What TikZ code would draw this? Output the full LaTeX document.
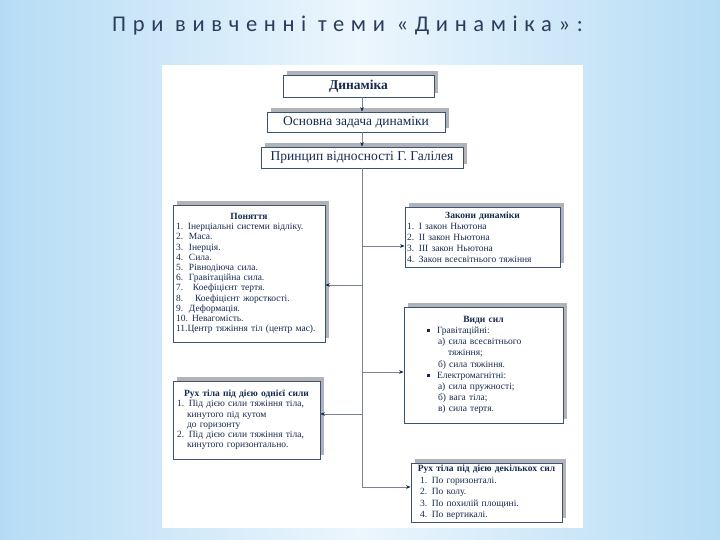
\documentclass[tikz,border=0pt]{standalone}
\usepackage{fontspec}
\setmainfont{Liberation Serif}
\newfontfamily\titlefont[LetterSpace=29.5]{Carlito}
\usetikzlibrary{arrows.meta,positioning,shadows,calc}
\definecolor{bgedge}{RGB}{182,220,245}
\definecolor{bgmid}{RGB}{236,246,253}
\definecolor{boxline}{RGB}{58,82,116}
\definecolor{shadowgrey}{RGB}{176,179,184}
\definecolor{ink}{RGB}{22,42,78}
\definecolor{spinegrey}{RGB}{120,130,146}
\definecolor{titleink}{RGB}{46,60,92}
\newcommand\numitem[3][13pt]{\makebox[#1][l]{#2}#3}
\newcommand\bul{\raisebox{1.6pt}{\rule{3pt}{3pt}}}
\tikzset{
  plainbox/.style={draw=boxline, line width=0.8pt, fill=white, text=ink,
    inner sep=0pt, drop shadow={shadow xshift=4pt, shadow yshift=4pt,
    opacity=1, fill=shadowgrey}},
  headbox/.style={plainbox, font=\fontsize{13.5}{15}\selectfont},
  listbox/.style={plainbox, align=left, inner xsep=3pt,
    font=\fontsize{9.5}{10.4}\selectfont},
  feed/.style={draw=spinegrey, line width=0.6pt},
  feedarrow/.style={feed, -{Stealth[length=4.5pt,width=3.6pt,color=ink]}}
}
\begin{document}
\begin{tikzpicture}[x=1pt,y=-1pt]
  \useasboundingbox (0,0) rectangle (720,540);
  % background and white sheet
  \shade[left color=bgedge, right color=bgedge, middle color=bgmid]
    (0,0) rectangle (720,540);
  \fill[white] (162,65) rectangle (583,528);
  % heading
  \node[anchor=base west, inner sep=0pt, text=titleink,
    font=\titlefont\fontsize{22.5}{26}\selectfont] (title) at (112,32)
    {При вивченні теми «Динаміка»:};
  % top chain
  \node[headbox, minimum width=151pt, minimum height=22pt,
    font=\fontsize{13.5}{15}\selectfont\bfseries] (dyn) at (358.5,86) {Динаміка};
  \node[headbox, minimum width=178pt, minimum height=20pt] (task) at (356,122)
    {Основна задача динаміки};
  \node[headbox, minimum width=202pt, minimum height=21pt] (galileo) at (362,157.5)
    {Принцип відносності Г. Галілея};
  % list boxes
  \node[listbox, text width=146pt, minimum height=137pt,
    font=\fontsize{9.5}{10.2}\selectfont] (concepts) at (249,273.5) {%
    \centerline{\textbf{Поняття}}
    1. Інерціальні системи відліку.\\
    \numitem{2.}{Маса.}\\
    \numitem{3.}{Інерція.}\\
    \numitem{4.}{Сила.}\\
    \numitem{5.}{Рівнодіюча сила.}\\
    \numitem{6.}{Гравітаційна сила.}\\
    \numitem[17pt]{7.}{Коефіцієнт тертя.}\\
    \numitem[19pt]{8.}{Коефіцієнт жорсткості.}\\
    \numitem{9.}{Деформація.}\\
    \numitem[16pt]{10.}{Невагомість.}\\
    11.Центр тяжіння тіл (центр мас).};
  \node[listbox, text width=151pt, minimum height=60pt, inner xsep=2pt,
    font=\fontsize{9.5}{11}\selectfont] (laws) at (482.5,237) {%
    \centerline{\textbf{Закони динаміки}}
    1. І закон Ньютона\\
    2. ІІ закон Ньютона\\
    3. ІІІ закон Ньютона\\
    4. Закон всесвітнього тяжіння};
  \node[listbox, text width=153pt, minimum height=116pt,
    font=\fontsize{9.5}{11.2}\selectfont] (forces) at (483.5,365) {%
    \centerline{\textbf{Види сил}}
    \hspace*{20pt}\bul\hspace{7pt}Гравітаційні:\\
    \hspace*{31pt}а) сила всесвітнього\\
    \hspace*{41pt}тяжіння;\\
    \hspace*{31pt}б) сила тяжіння.\\
    \hspace*{20pt}\bul\hspace{7pt}Електромагнітні:\\
    \hspace*{31pt}а) сила пружності;\\
    \hspace*{31pt}б) вага тіла;\\
    \hspace*{31pt}в) сила тертя.\\[6pt]};
  \node[listbox, text width=139pt, minimum height=78pt, inner xsep=4pt,
    font=\fontsize{9.5}{10.2}\selectfont] (single) at (246.5,420) {%
    \centerline{\textbf{Рух тіла під дією однієї сили}}
    1. Під дією сили тяжіння тіла,\\
    \hspace*{10pt}кинутого під кутом\\
    \hspace*{10pt}до горизонту\\
    2. Під дією сили тяжіння тіла,\\
    \hspace*{10pt}кинутого горизонтально.};
  \node[listbox, text width=145pt, minimum height=59pt,
    font=\fontsize{9.5}{11.5}\selectfont] (several) at (486.5,492.5) {%
    \centerline{\textbf{Рух тіла під дією декількох сил}}
    \hspace*{6pt}1. По горизонталі.\\
    \hspace*{6pt}2. По колу.\\
    \hspace*{6pt}3. По похилій площині.\\
    \hspace*{6pt}4. По вертикалі.};
  % connectors
  \draw[feedarrow] (dyn.south -| galileo.north) -- (task.north -| galileo.north);
  \draw[feedarrow] (task.south -| galileo.north) -- (galileo.north);
  \coordinate (j1) at (362,246);
  \coordinate (j2) at (362,285);
  \coordinate (j3) at (362,372);
  \coordinate (j4) at (362,414);
  \coordinate (j5) at (362,487);
  \draw[feed] (galileo.south) -- (j5);
  \draw[feedarrow] (j1) -- (j1 -| laws.west);
  \draw[feedarrow] (j2) -- (j2 -| concepts.east);
  \draw[feedarrow] (j3) -- (j3 -| forces.west);
  \draw[feedarrow] (j4) -- (j4 -| single.east);
  \draw[feedarrow] (j5) -- (j5 -| several.west);
\end{tikzpicture}
\end{document}
